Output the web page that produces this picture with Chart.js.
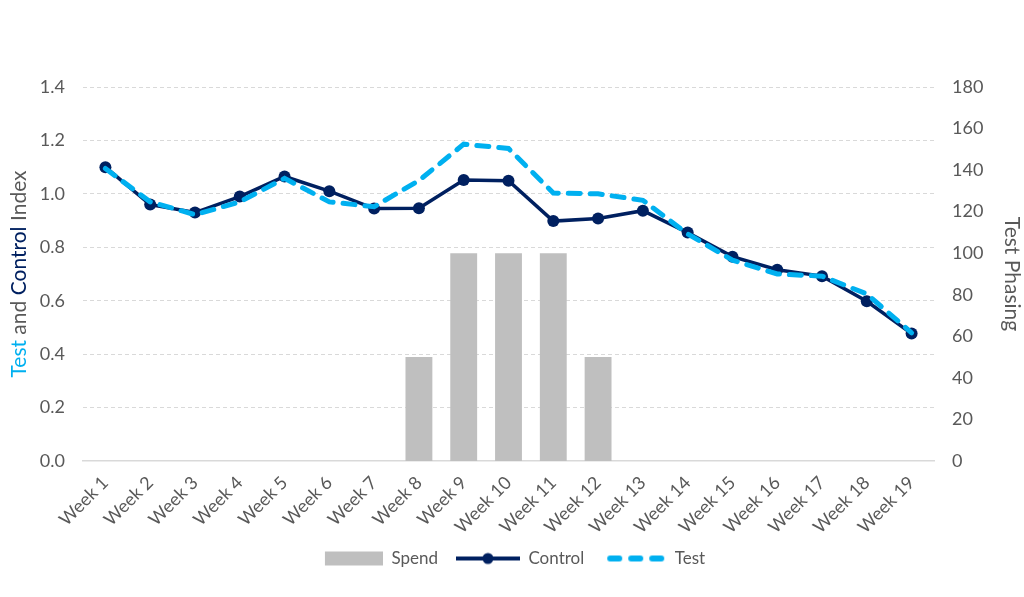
<!DOCTYPE html>
<html>
<head>
<meta charset="utf-8">
<script src="https://cdn.jsdelivr.net/npm/chart.js@4.4.1/dist/chart.umd.min.js"></script>
<style>
  html, body { margin: 0; padding: 0; background: #fff; }
  #wrap { width: 1024px; height: 597px; position: relative; }
</style>
</head>
<body>
<div id="wrap"><canvas id="chart"></canvas></div>
<script>
const weeks = ["Week 1", "Week 2", "Week 3", "Week 4", "Week 5", "Week 6", "Week 7", "Week 8", "Week 9", "Week 10",
  "Week 11", "Week 12", "Week 13", "Week 14", "Week 15", "Week 16", "Week 17", "Week 18", "Week 19"];
const spend = [null, null, null, null, null, null, null, 50, 100, 100, 100, 50, null, null, null, null, null, null, null];
const control = [1.10, 0.96, 0.93, 0.99, 1.065, 1.01, 0.945, 0.946, 1.052, 1.049, 0.898, 0.908, 0.937, 0.855, 0.765, 0.716, 0.692, 0.598, 0.477];
const test = [1.095, 0.97, 0.922, 0.97, 1.058, 0.97, 0.952, 1.05, 1.186, 1.17, 1.003, 1.0, 0.976, 0.85, 0.752, 0.70, 0.692, 0.625, 0.48];

const GREY_TEXT = "#595959";
const NAVY = "#002060";
const CYAN = "#00B0F0";
const SPEND_GREY = "#BFBFBF";
const FONT = "Lato, 'Open Sans', sans-serif";

function legendGlyph(kind) {
  const c = document.createElement("canvas");
  c.width = 64;
  c.height = 16;
  const g = c.getContext("2d");
  if (kind === "spend") {
    g.fillStyle = SPEND_GREY;
    g.fillRect(6, 1, 58, 14);
  } else if (kind === "control") {
    g.strokeStyle = NAVY;
    g.lineWidth = 4;
    g.beginPath();
    g.moveTo(0, 8);
    g.lineTo(64, 8);
    g.stroke();
    g.fillStyle = NAVY;
    g.beginPath();
    g.arc(32, 8, 5.5, 0, Math.PI * 2);
    g.fill();
  } else {
    g.strokeStyle = CYAN;
    g.lineWidth = 6;
    g.lineCap = "round";
    g.setLineDash([9, 12]);
    g.beginPath();
    g.moveTo(8, 8);
    g.lineTo(62, 8);
    g.stroke();
  }
  return c;
}

const glyphs = { Spend: legendGlyph("spend"), Control: legendGlyph("control"), Test: legendGlyph("test") };

// multi-coloured left axis title
const leftTitle = {
  id: "leftTitle",
  afterDraw(chart) {
    const { ctx, chartArea } = chart;
    const parts = [["Test", CYAN], [" and ", GREY_TEXT], ["Control", NAVY], [" Index", GREY_TEXT]];
    ctx.save();
    ctx.font = "21px " + FONT;
    const total = parts.reduce((s, p) => s + ctx.measureText(p[0]).width, 0);
    ctx.translate(19, (chartArea.top + chartArea.bottom) / 2);
    ctx.rotate(-Math.PI / 2);
    ctx.textBaseline = "middle";
    let x = -total / 2;
    parts.forEach(([text, color]) => {
      ctx.fillStyle = color;
      ctx.fillText(text, x, 0);
      x += ctx.measureText(text).width;
    });
    ctx.restore();
  },
};

new Chart(document.getElementById("chart"), {
  data: {
    labels: weeks,
    datasets: [
      {
        type: "bar",
        label: "Spend",
        data: spend,
        yAxisID: "y1",
        backgroundColor: SPEND_GREY,
        barPercentage: 0.6,
        categoryPercentage: 1,
        order: 2,
      },
      {
        type: "line",
        label: "Control",
        data: control,
        yAxisID: "y",
        borderColor: NAVY,
        backgroundColor: NAVY,
        borderWidth: 3.5,
        pointRadius: 6,
        pointBackgroundColor: NAVY,
        pointBorderWidth: 0,
        tension: 0,
        order: 1,
      },
      {
        type: "line",
        label: "Test",
        data: test,
        yAxisID: "y",
        borderColor: CYAN,
        backgroundColor: CYAN,
        borderWidth: 5,
        borderDash: [12, 10],
        borderCapStyle: "round",
        pointRadius: 0,
        tension: 0,
        order: 0,
      },
    ],
  },
  options: {
    responsive: true,
    maintainAspectRatio: false,
    animation: false,
    layout: { padding: { top: 87, left: 0, right: 0, bottom: 20 } },
    plugins: {
      tooltip: { enabled: false },
      legend: {
        position: "bottom",
        labels: {
          usePointStyle: true,
          pointStyleWidth: 64,
          padding: 18,
          color: GREY_TEXT,
          font: { family: FONT, size: 17 },
          sort: (a, b) => a.datasetIndex - b.datasetIndex,
          generateLabels(chart) {
            return chart.data.datasets.map((ds, i) => ({
              text: ds.label,
              pointStyle: glyphs[ds.label],
              fontColor: GREY_TEXT,
              datasetIndex: i,
              hidden: false,
              lineWidth: 0,
            }));
          },
        },
      },
    },
    scales: {
      x: {
        grid: { display: false },
        border: { display: true, color: "#D9D9D9", width: 1.5 },
        ticks: {
          color: GREY_TEXT,
          font: { family: FONT, size: 18 },
          minRotation: 45,
          maxRotation: 45,
          autoSkip: false,
        },
        afterFit(scale) { scale.height = 71; },
      },
      y: {
        position: "left",
        min: 0,
        max: 1.4,
        ticks: {
          stepSize: 0.2,
          color: GREY_TEXT,
          font: { family: FONT, size: 18 },
          padding: 18,
          callback: (v) => v.toFixed(1),
        },
        grid: {
          color: (ctx) => (ctx.tick && ctx.tick.value === 0 ? "rgba(0,0,0,0)" : "#D9D9D9"),
          drawTicks: false,
        },
        border: { display: false, dash: [4, 3] },
        afterFit(scale) { scale.width = 83; },
      },
      y1: {
        position: "right",
        min: 0,
        max: 180,
        ticks: {
          stepSize: 20,
          color: GREY_TEXT,
          font: { family: FONT, size: 18 },
          padding: 18,
        },
        grid: { display: false, drawTicks: false },
        border: { display: false },
        title: {
          display: true,
          text: "Test Phasing",
          color: GREY_TEXT,
          font: { family: FONT, size: 21 },
          padding: { top: 0, bottom: 0 },
        },
        afterFit(scale) { scale.width = 90; },
      },
    },
  },
  plugins: [leftTitle],
});
</script>
</body>
</html>
